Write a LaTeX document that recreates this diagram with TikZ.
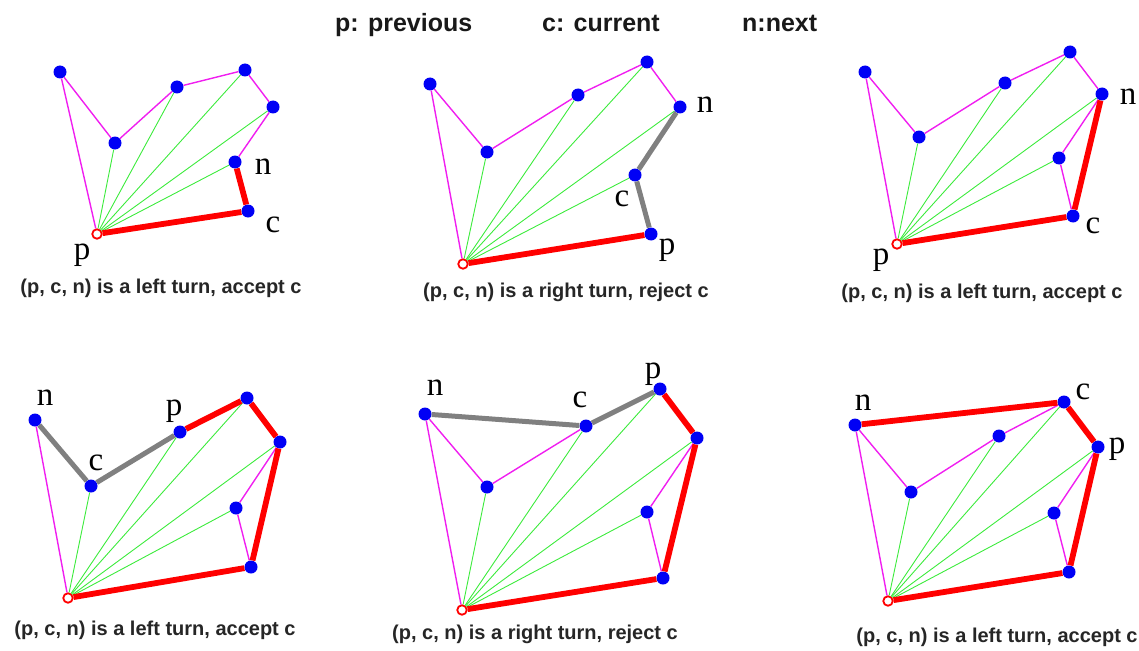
\documentclass[tikz,border=0pt]{standalone}
\usepackage{fontspec}
\setmainfont{Liberation Serif}
\setsansfont{Liberation Sans}
\definecolor{dotblue}{RGB}{0,0,245}
\definecolor{hullred}{RGB}{255,0,0}
\definecolor{polymag}{RGB}{240,30,240}
\definecolor{fangreen}{RGB}{60,235,60}
\definecolor{testgray}{RGB}{128,128,128}
\tikzset{
  pt/.style={circle,fill=dotblue,inner sep=0pt,minimum size=13pt},
  start/.style={circle,draw=hullred,line width=1.8pt,fill=white,inner sep=0pt,minimum size=9.5pt},
  poly/.style={draw=polymag,line width=1.4pt},
  fan/.style={draw=fangreen,line width=0.9pt},
  hull/.style={draw=hullred,line width=5.8pt},
  testseg/.style={draw=testgray,line width=5pt},
  lbl/.style={inner sep=0pt,font=\fontsize{33}{33}\selectfont},
  captext/.style={inner sep=0pt,font=\sffamily\bfseries\fontsize{20}{24}\selectfont,text=black!85},
  ttl/.style={inner sep=0pt,anchor=base west,font=\sffamily\bfseries\fontsize{25}{30}\selectfont,text=black!90},
}
\begin{document}
\begin{tikzpicture}[x=1pt,y=-1pt]
\useasboundingbox (0,0) rectangle (1139,650);
% title
\node[ttl] (t1) at (335,32) {p: previous};
\node[ttl] (t2) at (542,32) {c: current};
\node[ttl] (t3) at (742,32) {n:next};

% ---------- panel 1 ----------
\node[pt] (a1) at (60,72) {};
\node[pt] (b1) at (115,143) {};
\node[pt] (c1) at (177,87) {};
\node[pt] (d1) at (245,70) {};
\node[pt] (e1) at (273,107) {};
\node[pt] (n1) at (235,162) {};
\node[pt] (cc1) at (248,211) {};
\node[start] (s1) at (97,234) {};
\draw[poly] (s1) -- (a1);
\draw[poly] (a1) -- (b1);
\draw[poly] (b1) -- (c1);
\draw[poly] (c1) -- (d1);
\draw[poly] (d1) -- (e1);
\draw[poly] (e1) -- (n1);
\draw[fan] (s1) -- (b1);
\draw[fan] (s1) -- (c1);
\draw[fan] (s1) -- (d1);
\draw[fan] (s1) -- (e1);
\draw[fan] (s1) -- (n1);
\draw[hull] (s1) -- (cc1);
\draw[hull] (cc1) -- (n1);
\node[lbl] (ln1) at (263,167) {n};
\node[lbl] (lc1) at (273,225) {c};
\node[lbl] (lp1) at (82,255) {p};
\node[captext] (cap1) at (161,288) {(p, c, n) is a left turn, accept c};

% ---------- panel 2 ----------
\node[pt] (a2) at (430,84) {};
\node[pt] (b2) at (487,152) {};
\node[pt] (c2) at (578,95) {};
\node[pt] (d2) at (647,62) {};
\node[pt] (n2) at (680,107) {};
\node[pt] (cc2) at (635,175) {};
\node[pt] (p2) at (651,234) {};
\node[start] (s2) at (463,264) {};
\draw[poly] (s2) -- (a2);
\draw[poly] (a2) -- (b2);
\draw[poly] (b2) -- (c2);
\draw[poly] (c2) -- (d2);
\draw[poly] (d2) -- (n2);
\draw[fan] (s2) -- (b2);
\draw[fan] (s2) -- (c2);
\draw[fan] (s2) -- (d2);
\draw[fan] (s2) -- (n2);
\draw[fan] (s2) -- (cc2);
\draw[testseg] (n2) -- (cc2);
\draw[testseg] (cc2) -- (p2);
\draw[hull] (s2) -- (p2);
\node[lbl] (ln2) at (705,105) {n};
\node[lbl] (lc2) at (622,199) {c};
\node[lbl] (lp2) at (667,250) {p};
\node[captext] (cap2) at (566,292) {(p, c, n) is a right turn, reject c};

% ---------- panel 3 ----------
\node[pt] (a3) at (865,72) {};
\node[pt] (b3) at (919,137) {};
\node[pt] (c3) at (1005,83) {};
\node[pt] (d3) at (1070,52) {};
\node[pt] (n3) at (1102,94) {};
\node[pt] (q3) at (1059,158) {};
\node[pt] (cc3) at (1073,216) {};
\node[start] (s3) at (897,244) {};
\draw[poly] (s3) -- (a3);
\draw[poly] (a3) -- (b3);
\draw[poly] (b3) -- (c3);
\draw[poly] (c3) -- (d3);
\draw[poly] (d3) -- (n3);
\draw[poly] (n3) -- (q3);
\draw[poly] (q3) -- (cc3);
\draw[fan] (s3) -- (b3);
\draw[fan] (s3) -- (c3);
\draw[fan] (s3) -- (d3);
\draw[fan] (s3) -- (n3);
\draw[fan] (s3) -- (q3);
\draw[hull] (s3) -- (cc3);
\draw[hull] (cc3) -- (n3);
\node[lbl] (ln3) at (1128,97) {n};
\node[lbl] (lc3) at (1093,226) {c};
\node[lbl] (lp3) at (881,260) {p};
\node[captext] (cap3) at (982,293) {(p, c, n) is a left turn, accept c};

% ---------- panel 4 ----------
\node[pt] (n4) at (35,420) {};
\node[pt] (cc4) at (91,486) {};
\node[pt] (p4) at (180,432) {};
\node[pt] (d4) at (247,398) {};
\node[pt] (e4) at (280,442) {};
\node[pt] (q4) at (236,508) {};
\node[pt] (f4) at (251,567) {};
\node[start] (s4) at (68,598) {};
\draw[poly] (s4) -- (n4);
\draw[poly] (e4) -- (q4);
\draw[poly] (q4) -- (f4);
\draw[fan] (s4) -- (cc4);
\draw[fan] (s4) -- (p4);
\draw[fan] (s4) -- (d4);
\draw[fan] (s4) -- (e4);
\draw[fan] (s4) -- (q4);
\draw[testseg] (n4) -- (cc4);
\draw[testseg] (cc4) -- (p4);
\draw[hull] (p4) -- (d4);
\draw[hull] (d4) -- (e4);
\draw[hull] (e4) -- (f4);
\draw[hull] (f4) -- (s4);
\node[lbl] (ln4) at (45,398) {n};
\node[lbl] (lc4) at (96,463) {c};
\node[lbl] (lp4) at (174,411) {p};
\node[captext] (cap4) at (155,630) {(p, c, n) is a left turn, accept c};

% ---------- panel 5 ----------
\node[pt] (n5) at (425,414) {};
\node[pt] (b5) at (487,487) {};
\node[pt] (cc5) at (586,426) {};
\node[pt] (p5) at (660,389) {};
\node[pt] (e5) at (697,438) {};
\node[pt] (q5) at (647,512) {};
\node[pt] (f5) at (663,578) {};
\node[start] (s5) at (462,610) {};
\draw[poly] (s5) -- (n5);
\draw[poly] (n5) -- (b5);
\draw[poly] (b5) -- (cc5);
\draw[poly] (e5) -- (q5);
\draw[poly] (q5) -- (f5);
\draw[fan] (s5) -- (b5);
\draw[fan] (s5) -- (cc5);
\draw[fan] (s5) -- (p5);
\draw[fan] (s5) -- (e5);
\draw[fan] (s5) -- (q5);
\draw[testseg] (n5) -- (cc5);
\draw[testseg] (cc5) -- (p5);
\draw[hull] (p5) -- (e5);
\draw[hull] (e5) -- (f5);
\draw[hull] (f5) -- (s5);
\node[lbl] (ln5) at (435,388) {n};
\node[lbl] (lc5) at (580,400) {c};
\node[lbl] (lp5) at (653,374) {p};
\node[captext] (cap5) at (535,634) {(p, c, n) is a right turn, reject c};

% ---------- panel 6 ----------
\node[pt] (n6) at (855,425) {};
\node[pt] (b6) at (911,492) {};
\node[pt] (c6) at (999,436) {};
\node[pt] (cc6) at (1064,402) {};
\node[pt] (p6) at (1098,447) {};
\node[pt] (q6) at (1054,513) {};
\node[pt] (f6) at (1069,572) {};
\node[start] (s6) at (888,601) {};
\draw[poly] (s6) -- (n6);
\draw[poly] (n6) -- (b6);
\draw[poly] (b6) -- (c6);
\draw[poly] (c6) -- (cc6);
\draw[poly] (p6) -- (q6);
\draw[poly] (q6) -- (f6);
\draw[fan] (s6) -- (b6);
\draw[fan] (s6) -- (c6);
\draw[fan] (s6) -- (cc6);
\draw[fan] (s6) -- (p6);
\draw[fan] (s6) -- (q6);
\draw[hull] (n6) -- (cc6);
\draw[hull] (cc6) -- (p6);
\draw[hull] (p6) -- (f6);
\draw[hull] (f6) -- (s6);
\node[lbl] (ln6) at (863,403) {n};
\node[lbl] (lc6) at (1083,392) {c};
\node[lbl] (lp6) at (1117,449) {p};
\node[captext] (cap6) at (997,637) {(p, c, n) is a left turn, accept c};
\end{tikzpicture}
\end{document}
